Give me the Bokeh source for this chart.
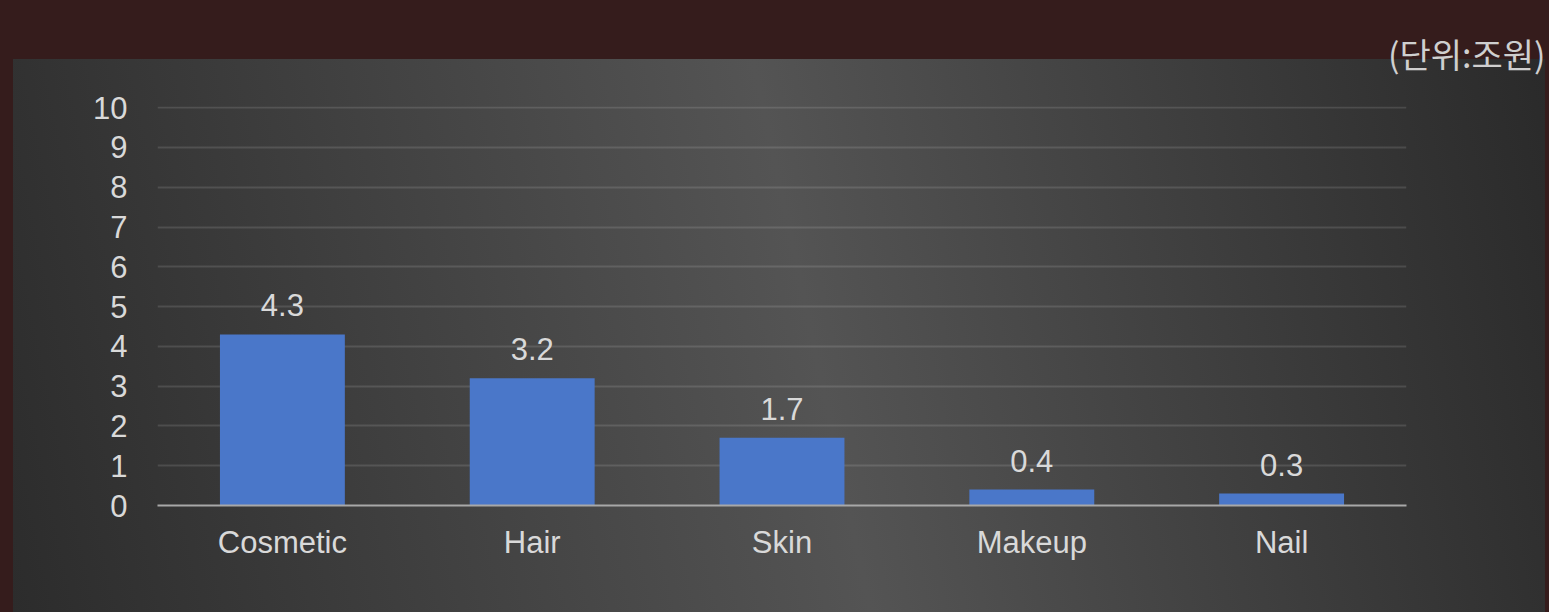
from bokeh.plotting import figure
from bokeh.models import (ColumnDataSource, FactorRange, Range1d, LabelSet,
                          GlobalInlineStyleSheet, FixedTicker)
from bokeh.core.properties import value
from bokeh.embed import file_html
from bokeh.resources import INLINE

categories = ["Cosmetic", "Hair", "Skin", "Makeup", "Nail"]
values = [4.3, 3.2, 1.7, 0.4, 0.3]
value_labels = ["4.3", "3.2", "1.7", "0.4", "0.3"]
y_ticks = [0, 1, 2, 3, 4, 5, 6, 7, 8, 9, 10]
unit_text = "(단위:조원)"

FONT = "Liberation Sans"
TXT = "#d9d9d9"

src = ColumnDataSource(dict(cat=categories, val=values, lab=value_labels))

p = figure(width=1549, height=612, output_backend="svg", toolbar_location=None,
           x_range=FactorRange(*categories, range_padding=0),
           y_range=Range1d(0, 10.03),
           min_border_left=157, min_border_right=143,
           min_border_top=106, min_border_bottom=107,
           title=unit_text, title_location="above")

p.border_fill_alpha = 0
p.background_fill_alpha = 0
p.outline_line_color = None
p.styles = {
    "background": "linear-gradient(78deg, #2c2c2c 0%, #545454 52%, #2a2a2a 100%) "
                  "13px 59px / 1532px 553px no-repeat, #351c1c"
}
p.stylesheets = [GlobalInlineStyleSheet(css="body{background:#351c1c;}")]

p.title.align = "right"
p.title.vertical_align = "top"
p.title.offset = -139
p.title.standoff = 54
p.title.text_font = "Noto Sans CJK KR"
p.title.text_font_size = "34px"
p.title.text_font_style = "normal"
p.title.text_color = "#cfcfcf"

p.vbar(x="cat", top="val", width=0.5, source=src, fill_color="#4a77c9",
       line_color=None)

labels = LabelSet(x="cat", y="val", text="lab", source=src, y_offset=18,
                  text_align="center", text_baseline="alphabetic",
                  text_font=value(FONT), text_font_size=value("31px"), text_color=TXT)
p.add_layout(labels)

p.yaxis.ticker = FixedTicker(ticks=y_ticks)
p.yaxis.axis_line_color = None
p.yaxis.major_tick_line_color = None
p.yaxis.minor_tick_line_color = None
p.yaxis.major_label_standoff = 24
p.yaxis.major_label_text_font = FONT
p.yaxis.major_label_text_font_size = "31px"
p.yaxis.major_label_text_color = TXT

p.xaxis.axis_line_color = "#a8a8a8"
p.xaxis.axis_line_width = 2
p.xaxis.major_tick_line_color = None
p.xaxis.minor_tick_line_color = None
p.xaxis.major_label_standoff = 13
p.xaxis.major_label_text_font = FONT
p.xaxis.major_label_text_font_size = "31px"
p.xaxis.major_label_text_color = TXT

p.xgrid.grid_line_color = None
p.ygrid.grid_line_color = "white"
p.ygrid.grid_line_alpha = 0.12
p.ygrid.grid_line_width = 2

open("out.html", "w").write(file_html(p, INLINE))
